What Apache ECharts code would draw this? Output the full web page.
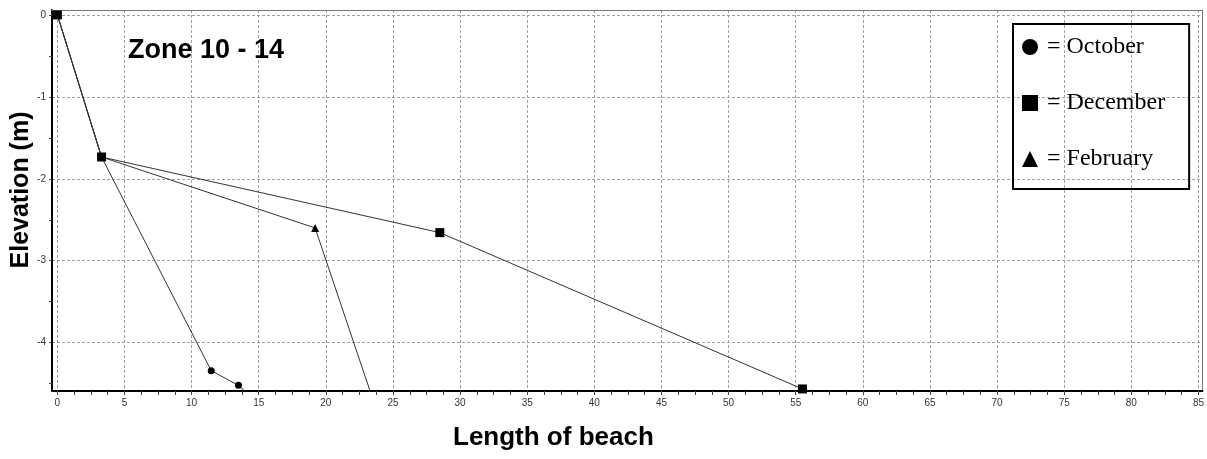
<!DOCTYPE html>
<html>
<head>
<meta charset="utf-8">
<script src="https://cdn.jsdelivr.net/npm/echarts@6/dist/echarts.min.js"></script>
<style>
html,body{margin:0;padding:0;background:#fff;}
#chart{width:1207px;height:459px;}
</style>
</head>
<body>
<div id="chart"></div>
<script>
// ---- data ----
const octoberPoints  = [[0, 0], [3.29, -1.734], [11.46, -4.342], [13.49, -4.521], [13.95, -4.59]];
const decemberPoints = [[0, 0], [3.29, -1.734], [28.49, -2.657], [55.5, -4.565]];
const februaryPoints = [[0, 0], [3.29, -1.734], [19.2, -2.6], [23.29, -4.59]];
const seriesNames = ['October', 'December', 'February'];
const xTickLabels = [0, 5, 10, 15, 20, 25, 30, 35, 40, 45, 50, 55, 60, 65, 70, 75, 80, 85];
const yTickLabels = [0, -1, -2, -3, -4];
const xMin = -0.4, xMax = 85.3;
const yMin = -4.59, yMax = 0.06;

// tick marks: subdivide the labelled ticks (4 parts on x, 2 parts on y)
function subdivide(vals, parts, extra) {
  const out = [];
  for (let i = 0; i < vals.length; i++) {
    out.push(vals[i]);
    const next = i < vals.length - 1 ? vals[i + 1] : vals[i] + (vals[i] - vals[i - 1]);
    if (i < vals.length - 1 || extra) {
      for (let k = 1; k < parts; k++) out.push(+(vals[i] + (next - vals[i]) * k / parts).toFixed(4));
    }
  }
  return out;
}
const xTickValues = subdivide(xTickLabels, 4, false);
const yTickValues = subdivide(yTickLabels, 2, true);

function lastNoSymbol(points, keepLast) {
  return points.map((p, i) => (i === points.length - 1 && !keepLast) ? { value: p, symbol: 'none' } : p);
}

const chart = echarts.init(document.getElementById('chart'), null, { renderer: 'canvas' });
const lineStyle = { color: '#333', width: 1 };
const gridLine = { color: '#a0a0a0', width: 1, type: [3, 2] };

chart.setOption({
  animation: false,
  backgroundColor: '#fff',
  title: [
    { text: 'Zone 10 - 14', left: 128, top: 37, padding: 0,
      textStyle: { fontFamily: 'Liberation Sans', fontWeight: 'bold', fontSize: 27, color: '#000' } },
    { text: 'Length of beach', left: 453, top: 425, padding: 0,
      textStyle: { fontFamily: 'Liberation Sans', fontWeight: 'bold', fontSize: 26, color: '#000' } }
  ],
  graphic: [
    { type: 'text', x: 21, y: 190, rotation: Math.PI / 2,
      style: { text: 'Elevation (m)', font: 'bold 25px "Liberation Sans"', fill: '#000',
               align: 'center', verticalAlign: 'middle' } }
  ],
  legend: {
    orient: 'vertical',
    left: 1013, top: 24,
    padding: [11, 24, 18, 9],
    itemGap: 32,
    itemWidth: 16, itemHeight: 16,
    borderColor: '#000', borderWidth: 2,
    formatter: '= {name}',
    textStyle: { fontFamily: 'Liberation Serif', fontSize: 24, color: '#000', padding: [4, 0, 0, 4] },
    data: [
      { name: 'October', icon: 'circle' },
      { name: 'December', icon: 'rect' },
      { name: 'February', icon: 'triangle' }
    ]
  },
  grid: { left: 52, right: 3, top: 10, bottom: 68, containLabel: false },
  xAxis: [
    { type: 'value', position: 'bottom', min: xMin, max: xMax,
      axisLine: { show: true, onZero: false, lineStyle: { color: '#000', width: 2 } },
      axisTick: { show: true, customValues: xTickValues, length: 4, lineStyle: { color: '#444' } },
      axisLabel: { customValues: xTickLabels, fontFamily: 'Liberation Sans', fontSize: 10, color: '#333', margin: 7 },
      splitLine: { show: false } },
    { type: 'value', position: 'top', min: xMin, max: xMax, splitNumber: 17,
      axisLine: { show: true, onZero: false, lineStyle: { color: '#777', width: 1 } },
      axisTick: { show: false }, axisLabel: { show: false },
      splitLine: { show: true, lineStyle: gridLine } }
  ],
  yAxis: [
    { type: 'value', position: 'left', min: yMin, max: yMax,
      axisLine: { show: true, onZero: false, lineStyle: { color: '#000', width: 2 } },
      axisTick: { show: true, customValues: yTickValues, length: 3, lineStyle: { color: '#444' } },
      axisLabel: { customValues: yTickLabels, fontFamily: 'Liberation Sans', fontSize: 10, color: '#333', margin: 6 },
      splitLine: { show: false } },
    { type: 'value', position: 'right', min: yMin, max: yMax, splitNumber: 5,
      axisLine: { show: true, onZero: false, lineStyle: { color: '#777', width: 1 } },
      axisTick: { show: false }, axisLabel: { show: false },
      splitLine: { show: true, lineStyle: gridLine } }
  ],
  series: [
    { name: 'February', type: 'line', xAxisIndex: 0, yAxisIndex: 0, data: lastNoSymbol(februaryPoints, false),
      symbol: 'triangle', symbolSize: 8, showAllSymbol: true, itemStyle: { color: '#000' }, lineStyle: lineStyle, z: 3 },
    { name: 'October', type: 'line', xAxisIndex: 0, yAxisIndex: 0, data: lastNoSymbol(octoberPoints, false),
      symbol: 'circle', symbolSize: 7, showAllSymbol: true, itemStyle: { color: '#000' }, lineStyle: lineStyle, z: 3 },
    { name: 'December', type: 'line', xAxisIndex: 0, yAxisIndex: 0, data: lastNoSymbol(decemberPoints, true),
      symbol: 'rect', symbolSize: 9, showAllSymbol: true, itemStyle: { color: '#000' }, lineStyle: lineStyle, z: 4 }
  ]
});
</script>
</body>
</html>
